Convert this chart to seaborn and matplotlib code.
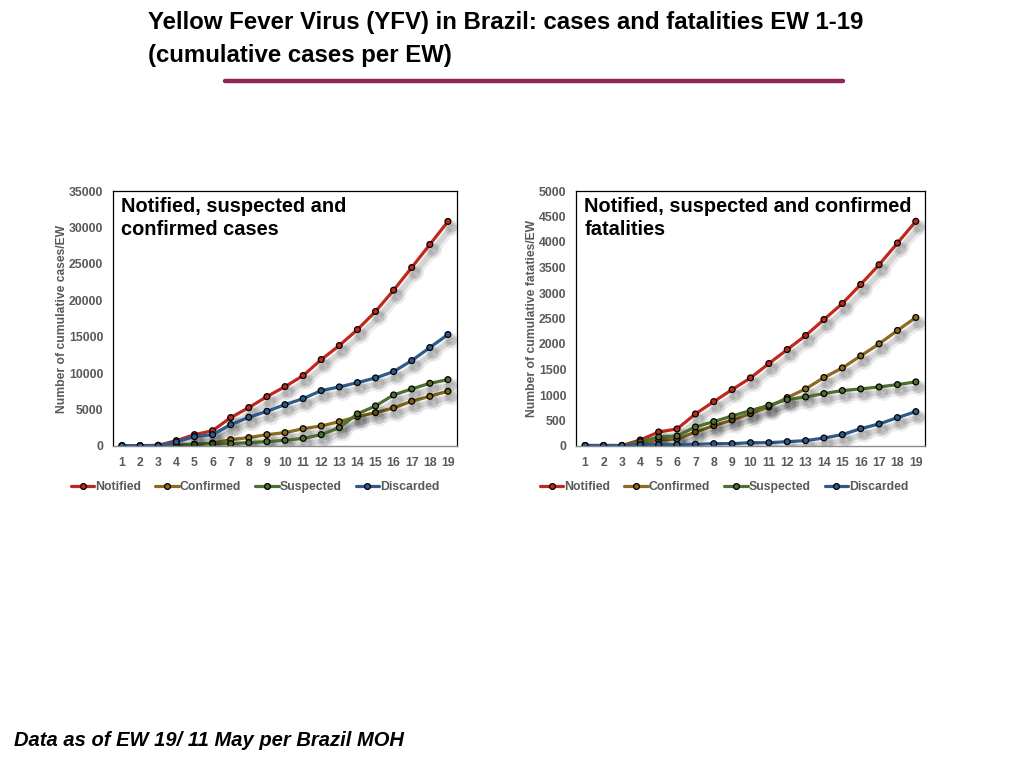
import numpy as np
import pandas as pd
import seaborn as sns
import matplotlib.pyplot as plt
import matplotlib.patheffects as pe
from matplotlib.lines import Line2D

# epidemiological weeks
weeks = list(range(1, 20))

# cumulative cases per EW
cases_notified = [50, 50, 100, 730, 1560, 2100, 3900, 5270, 6780, 8150, 9660,
                  11860, 13790, 15980, 18460, 21390, 24500, 27660, 30820]
cases_confirmed = [0, 0, 0, 90, 230, 410, 870, 1150, 1560, 1830, 2380,
                   2750, 3340, 4030, 4580, 5220, 6140, 6820, 7510]
cases_suspected = [0, 0, 0, 90, 230, 320, 320, 460, 600, 780, 1050,
                   1560, 2520, 4400, 5500, 7010, 7830, 8610, 9110]
cases_discarded = [50, 50, 50, 550, 1280, 1560, 2930, 3940, 4760, 5680, 6500,
                   7600, 8110, 8700, 9340, 10210, 11720, 13510, 15300]

# cumulative fatalities per EW
fat_notified = [10, 10, 10, 118, 275, 334, 628, 870, 1106, 1335, 1617,
                1891, 2166, 2480, 2795, 3168, 3554, 3979, 4405]
fat_confirmed = [0, 0, 0, 45, 118, 137, 275, 399, 510, 635, 766,
                 949, 1119, 1342, 1531, 1767, 2003, 2265, 2520]
fat_suspected = [0, 0, 0, 85, 177, 196, 373, 478, 589, 694, 798,
                 910, 962, 1028, 1087, 1119, 1158, 1204, 1257]
fat_discarded = [10, 10, 10, 26, 26, 26, 33, 46, 46, 65, 65,
                 85, 105, 157, 223, 340, 432, 556, 674]

series_names = ['Notified', 'Confirmed', 'Suspected', 'Discarded']
colors = {'Notified': '#C0281E', 'Confirmed': '#8C6B1E',
          'Suspected': '#4C7030', 'Discarded': '#2E5A8C'}

cases = dict(zip(series_names, [cases_notified, cases_confirmed,
                                cases_suspected, cases_discarded]))
fatalities = dict(zip(series_names, [fat_notified, fat_confirmed,
                                     fat_suspected, fat_discarded]))

sns.set_style('white')
plt.rcParams['font.family'] = ['Liberation Sans', 'DejaVu Sans']
plt.rcParams['text.color'] = 'black'

grey = '#595959'
fig = plt.figure(figsize=(10.24, 7.68), dpi=100)

# title block
fig.text(148 / 1024, 1 - 11 / 768,
         'Yellow Fever Virus (YFV) in Brazil: cases and fatalities EW 1-19\n(cumulative cases per EW)',
         family=['Liberation Sans Narrow', 'Liberation Sans', 'DejaVu Sans'],
         fontsize=17.3, fontweight='bold', va='top', ha='left', linespacing=1.55)
fig.add_artist(Line2D([225 / 1024, 843 / 1024], [1 - 81 / 768, 1 - 81 / 768],
                      color='#8E2554', linewidth=3.2, transform=fig.transFigure))
fig.text(14 / 1024, 1 - 741 / 768, 'Data as of EW 19/ 11 May per Brazil MOH',
         fontsize=14.5, fontweight='bold', style='italic', va='center', ha='left')

shadow = [pe.SimpleLineShadow(offset=(3, -4.5), shadow_color='black', alpha=0.07, linewidth=7),
          pe.SimpleLineShadow(offset=(2.5, -4), shadow_color='black', alpha=0.1, linewidth=4),
          pe.Normal()]


def draw_panel(rect, data, ymax, ystep, ylabel, inner_title, legend_x):
    ax = fig.add_axes(rect)
    df = pd.DataFrame(data)
    df['EW'] = weeks
    long = df.melt(id_vars='EW', var_name='series', value_name='value')
    for name in series_names:
        sub = long[long['series'] == name]
        sns.lineplot(data=sub, x='EW', y='value', ax=ax, color=colors[name],
                     linewidth=2.3, marker='o', markersize=4.2,
                     markeredgecolor='black', markeredgewidth=0.9,
                     path_effects=shadow, legend=False)
    ax.set_xlim(0.5, 19.5)
    ax.set_ylim(0, ymax)
    ax.set_xticks(weeks)
    ax.set_xticklabels([str(w) for w in weeks])
    ax.set_yticks(np.arange(0, ymax + 1, ystep))
    ax.set_xlabel('')
    ax.set_ylabel(ylabel, fontsize=8.7, fontweight='bold', color=grey, labelpad=0.5)
    ax.tick_params(axis='both', length=0, labelsize=8.8, labelcolor=grey)
    ax.tick_params(axis='x', pad=8)
    ax.tick_params(axis='y', pad=7)
    for lab in ax.get_xticklabels() + ax.get_yticklabels():
        lab.set_fontweight('bold')
    for side in ['top', 'right', 'left']:
        ax.spines[side].set_color('black')
        ax.spines[side].set_linewidth(0.9)
    ax.spines['bottom'].set_color('#8a8a8a')
    ax.spines['bottom'].set_linewidth(1.0)
    ax.text(0.024, 0.975, inner_title, transform=ax.transAxes, fontsize=14.4,
            fontweight='bold', va='top', ha='left', linespacing=1.25)
    handles = [Line2D([], [], color=colors[n], linewidth=2.3, marker='o',
                      markersize=4.2, markeredgecolor='black',
                      markeredgewidth=0.9) for n in series_names]
    leg = fig.legend(handles, series_names, loc='center',
                     bbox_to_anchor=(legend_x, 1 - 487 / 768), ncol=4,
                     frameon=False, handlelength=1.9, handletextpad=0.05,
                     columnspacing=1.2, prop={'size': 8.8, 'weight': 'bold'})
    for t in leg.get_texts():
        t.set_color(grey)
    return ax


draw_panel([113 / 1024, 1 - 446 / 768, 344 / 1024, 255 / 768], cases,
           35000, 5000, 'Number of cumulative cases/EW',
           'Notified, suspected and\nconfirmed cases', 255 / 1024)
draw_panel([576 / 1024, 1 - 446 / 768, 349 / 1024, 255 / 768], fatalities,
           5000, 500, 'Number of cumulative fataties/EW',
           'Notified, suspected and confirmed\nfatalities', 724 / 1024)

fig.savefig('out.png', dpi=100)
